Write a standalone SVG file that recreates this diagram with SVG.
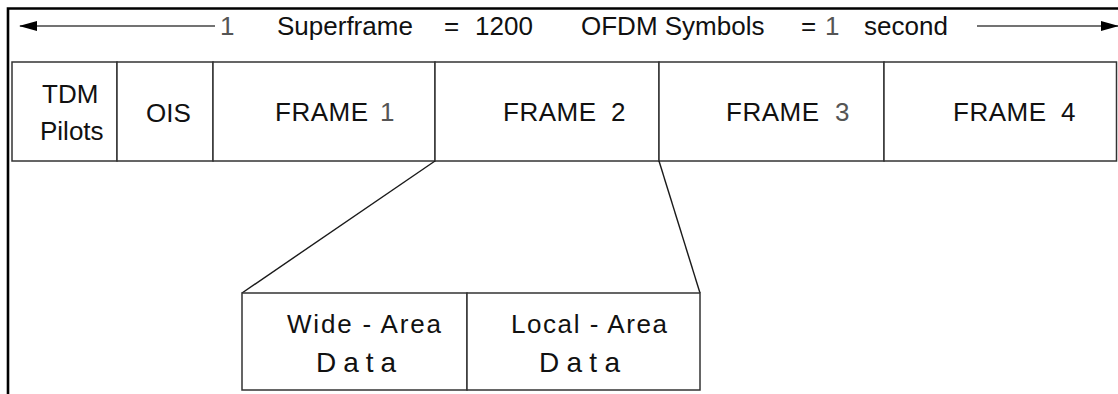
<svg xmlns="http://www.w3.org/2000/svg" width="1118" height="394" viewBox="0 0 1118 394">
  <style>
    .bg { fill: #ffffff; }
    .frame { fill: none; stroke: #000000; stroke-width: 2.6; }
    .cell { fill: #ffffff; stroke: #333333; stroke-width: 1.5; }
    .conn { fill: none; stroke: #1a1a1a; stroke-width: 1.4; }
    .arrow { fill: none; stroke: #444444; stroke-width: 1.3; }
    .lbl { font-family: "Liberation Sans", Arial, sans-serif; font-size: 26px; fill: #111111; }
    .big { font-size: 28px; }
    .lite { fill: #555555; }
  </style>
  <defs>
    <marker id="head" viewBox="0 0 18 10" refX="17" refY="5" markerWidth="18" markerHeight="10" markerUnits="userSpaceOnUse" orient="auto">
      <path d="M0,0 L18,5 L0,10 Z" fill="#000000"/>
    </marker>
  </defs>

  <rect class="bg" x="0" y="0" width="1118" height="394"/>

  <!-- outer border: top rule and left rule -->
  <path class="frame" d="M8,394 L8,8.5 L1118,8.5"/>

  <!-- superframe span arrows -->
  <g id="span">
    <line class="arrow" x1="215" y1="26" x2="20" y2="26" marker-end="url(#head)"/>
    <line class="arrow" x1="977" y1="26" x2="1118" y2="26" marker-end="url(#head)"/>
    <text class="lbl" y="35">
      <tspan x="220" class="lite">1</tspan>
      <tspan x="277">Superframe</tspan>
      <tspan x="444">=</tspan>
      <tspan x="475">1200</tspan>
      <tspan x="581">OFDM Symbols</tspan>
      <tspan x="801">=</tspan>
      <tspan x="825" class="lite">1</tspan>
      <tspan x="864">second</tspan>
    </text>
  </g>

  <!-- superframe row -->
  <g id="tdm-pilots">
    <rect class="cell" x="12" y="62" width="105" height="99"/>
    <text class="lbl" x="42" y="103">TDM</text>
    <text class="lbl" x="40" y="140">Pilots</text>
  </g>
  <g id="ois">
    <rect class="cell" x="117" y="62" width="96" height="99"/>
    <text class="lbl" x="146" y="122">OIS</text>
  </g>
  <g id="frame-1">
    <rect class="cell" x="213" y="62" width="222" height="99"/>
    <text class="lbl" x="275" y="121" textLength="93" lengthAdjust="spacing">FRAME</text>
    <text class="lbl lite" x="380" y="121">1</text>
  </g>
  <g id="frame-2">
    <rect class="cell" x="435" y="62" width="224" height="99"/>
    <text class="lbl" x="503" y="121" textLength="93" lengthAdjust="spacing">FRAME</text>
    <text class="lbl" x="611" y="121">2</text>
  </g>
  <g id="frame-3">
    <rect class="cell" x="659" y="62" width="225" height="99"/>
    <text class="lbl" x="726" y="121" textLength="93" lengthAdjust="spacing">FRAME</text>
    <text class="lbl lite" x="835" y="121">3</text>
  </g>
  <g id="frame-4">
    <rect class="cell" x="884" y="62" width="232.5" height="99"/>
    <text class="lbl" x="953" y="121" textLength="93" lengthAdjust="spacing">FRAME</text>
    <text class="lbl" x="1061" y="121">4</text>
  </g>

  <!-- expansion of FRAME 2 -->
  <g id="connectors">
    <line class="conn" x1="435" y1="161" x2="242" y2="293"/>
    <line class="conn" x1="659" y1="161" x2="700" y2="293"/>
  </g>

  <g id="wide-area">
    <rect class="cell" x="242" y="293" width="225" height="97"/>
    <text class="lbl" x="287" y="333" textLength="154" lengthAdjust="spacing">Wide - Area</text>
    <text class="lbl big" x="316" y="372" textLength="80" lengthAdjust="spacing">Data</text>
  </g>
  <g id="local-area">
    <rect class="cell" x="467" y="293" width="233" height="97"/>
    <text class="lbl" x="511" y="333" textLength="156" lengthAdjust="spacing">Local - Area</text>
    <text class="lbl big" x="539" y="372" textLength="81" lengthAdjust="spacing">Data</text>
  </g>
</svg>
